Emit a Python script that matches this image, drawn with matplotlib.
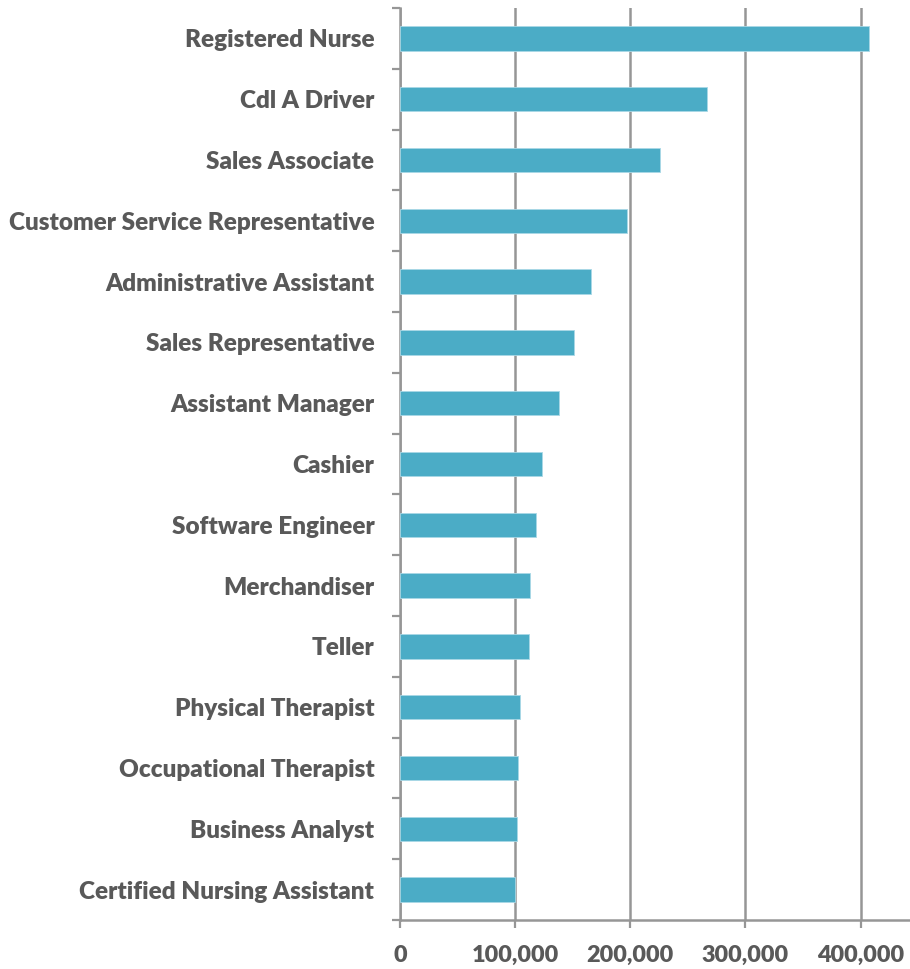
import numpy as np
import matplotlib
matplotlib.use("Agg")
import matplotlib.pyplot as plt
from matplotlib.ticker import FuncFormatter, MultipleLocator

# ---------------- data ----------------
jobs = ["Registered Nurse", "Cdl A Driver", "Sales Associate",
        "Customer Service Representative", "Administrative Assistant",
        "Sales Representative", "Assistant Manager", "Cashier",
        "Software Engineer", "Merchandiser", "Teller", "Physical Therapist",
        "Occupational Therapist", "Business Analyst",
        "Certified Nursing Assistant"]
counts = [407400, 266400, 226000, 197500, 165500, 151500, 138300, 123500,
          118300, 112700, 112200, 104300, 102900, 101400, 100300]
x_ticks = [0, 100000, 200000, 300000, 400000]

bar_color = "#4BACC6"
text_color = "#595959"
line_color = "#969696"

plt.rcParams["font.family"] = ["Lato", "DejaVu Sans"]

fig = plt.figure(figsize=(9.10, 9.69), dpi=100)
ax = fig.add_axes([0.4396, 0.0506, 0.5604, 0.9411])

y = np.arange(len(jobs))
ax.barh(y, counts, height=0.4, color=bar_color, edgecolor="#a9d8e6",
        linewidth=0.6, zorder=3)
ax.set_ylim(len(jobs) - 0.5, -0.5)
ax.set_xlim(0, 443000)

ax.set_yticks(y)
ax.set_yticklabels(jobs)
ax.yaxis.set_minor_locator(MultipleLocator(1, offset=0.5))
ax.tick_params(axis="y", which="major", length=0, pad=18.5,
               labelsize=17.5, labelcolor=text_color)
ax.tick_params(axis="y", which="minor", length=5.5, width=1.6,
               color=line_color, direction="out")
for lbl in ax.get_yticklabels():
    lbl.set_fontweight("heavy")

ax.set_xticks(x_ticks)
ax.xaxis.set_major_formatter(FuncFormatter(lambda v, p: f"{int(v):,}"))
ax.tick_params(axis="x", length=6, width=1.6, color=line_color, pad=12,
               labelsize=16.8, labelcolor=text_color)
for lbl in ax.get_xticklabels():
    lbl.set_fontweight("heavy")

ax.grid(axis="x", color=line_color, linewidth=1.8, zorder=0)
for side in ["top", "right"]:
    ax.spines[side].set_visible(False)
for side in ["left", "bottom"]:
    ax.spines[side].set_color(line_color)
    ax.spines[side].set_linewidth(1.8)

fig.savefig("out.png", dpi=100)
